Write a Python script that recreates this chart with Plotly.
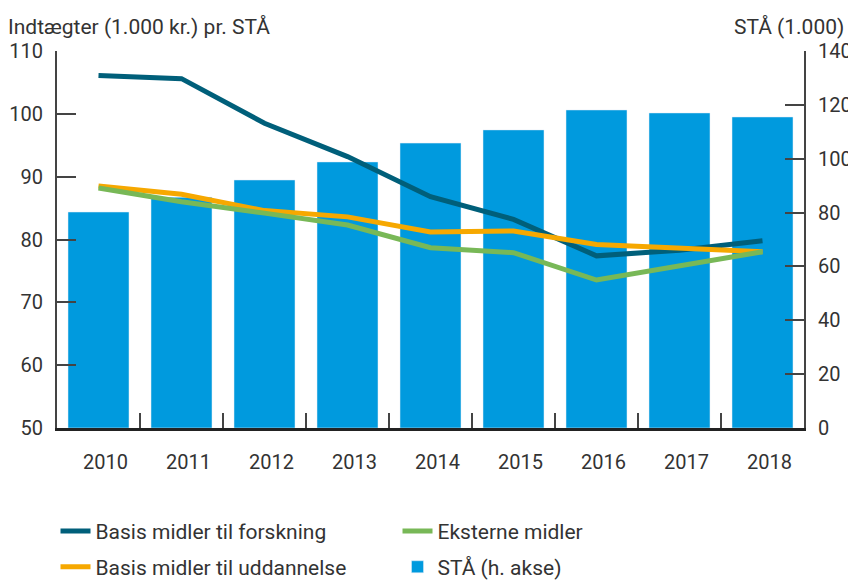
import plotly.graph_objects as go

years = ["2010", "2011", "2012", "2013", "2014", "2015", "2016", "2017", "2018"]
sta = [80.2, 85.7, 92.1, 98.8, 105.8, 110.7, 118.1, 117.0, 115.5]
basis_forskning = [106.1, 105.6, 98.5, 93.2, 86.8, 83.2, 77.4, 78.3, 79.8]
basis_uddannelse = [88.5, 87.2, 84.6, 83.6, 81.2, 81.35, 79.2, 78.7, 78.05]
eksterne = [88.2, 86.0, 84.2, 82.3, 78.7, 77.9, 73.55, 75.8, 78.05]

FONT = "Roboto"
TXT = "#333333"
AX = "#444444"

fig = go.Figure()
fig.add_trace(go.Bar(x=years, y=sta, name="STÅ (h. akse)", marker_color="#009ade",
                     yaxis="y", legend="legend2", legendrank=2))
fig.add_trace(go.Scatter(x=years, y=basis_forskning, name="Basis midler til forskning",
                         mode="lines", line=dict(color="#005f7a", width=5),
                         yaxis="y2", legend="legend", legendrank=1))
fig.add_trace(go.Scatter(x=years, y=basis_uddannelse, name="Basis midler til uddannelse",
                         mode="lines", line=dict(color="#f6a800", width=5),
                         yaxis="y2", legend="legend2", legendrank=1))
fig.add_trace(go.Scatter(x=years, y=eksterne, name="Eksterne midler",
                         mode="lines", line=dict(color="#78b857", width=5),
                         yaxis="y2", legend="legend", legendrank=2))

legend_common = dict(orientation="h", xanchor="left", yanchor="middle",
                     font=dict(family=FONT, size=21, color=TXT),
                     entrywidth=297, entrywidthmode="pixels",
                     bgcolor="rgba(0,0,0,0)", borderwidth=0)

# page body has an 8px margin, so the figure is sized to fill the rest of the window
fig.update_layout(
    width=848, height=572,
    margin=dict(l=49, r=52, t=43, b=152, autoexpand=False),
    paper_bgcolor="white", plot_bgcolor="white",
    font=dict(family=FONT, size=20, color=TXT),
    bargap=0.265,
    showlegend=True,
    legend=dict(x=-0.002, y=-0.274, **legend_common),
    legend2=dict(x=-0.002, y=-0.369, **legend_common),
    xaxis=dict(type="category", range=[-0.5, 8.5], showline=True, linecolor="#222222",
               linewidth=2.5, ticks="inside", ticklen=15, tickwidth=1.5, tickcolor=AX,
               tickson="boundaries", showgrid=False, zeroline=False,
               ticklabelstandoff=14, ticklabelshift=7, tickfont=dict(size=20, color=TXT)),
    yaxis=dict(side="right", range=[0, 140], dtick=20, tick0=0, showline=True,
               linecolor=AX, linewidth=2, ticks="inside", ticklen=19, tickwidth=1.5,
               tickcolor=AX, showgrid=False, zeroline=False,
               ticklabelstandoff=8, tickfont=dict(size=20, color=TXT)),
    yaxis2=dict(side="left", overlaying="y", range=[50, 110], dtick=10, tick0=50,
                showline=True, linecolor=AX, linewidth=2, ticks="inside", ticklen=19,
                tickwidth=1.5, tickcolor=AX, showgrid=False, zeroline=False,
                ticklabelstandoff=8, tickfont=dict(size=20, color=TXT)),
    annotations=[
        dict(text="Indtægter (1.000 kr.) pr. STÅ", xref="paper", yref="paper",
             x=-0.0683, y=1.0637, xanchor="left", yanchor="middle", showarrow=False,
             font=dict(family=FONT, size=21, color=TXT)),
        dict(text="STÅ (1.000)", xref="paper", yref="paper",
             x=1.056, y=1.0637, xanchor="right", yanchor="middle", showarrow=False,
             font=dict(family=FONT, size=21, color=TXT)),
    ],
)

fig.write_html("out.html")
